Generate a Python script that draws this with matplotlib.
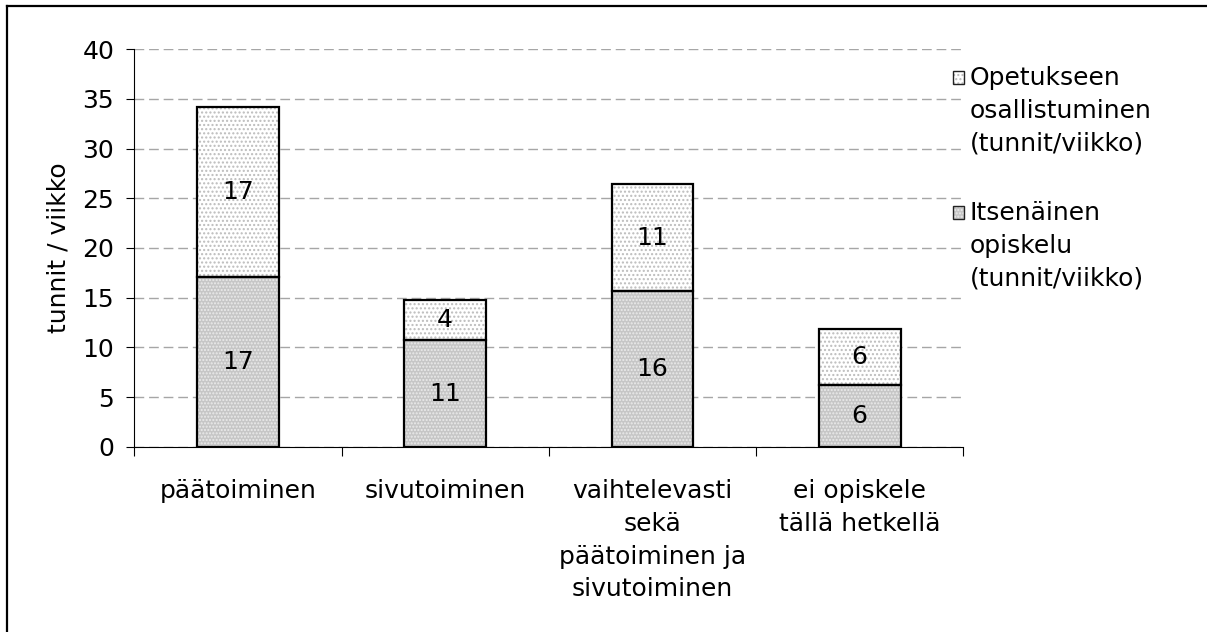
import numpy as np
import matplotlib.pyplot as plt
from matplotlib.lines import Line2D
from matplotlib.patches import Rectangle
from matplotlib.legend_handler import HandlerPatch

categories = ["päätoiminen", "sivutoiminen",
              "vaihtelevasti\nsekä\npäätoiminen ja\nsivutoiminen",
              "ei opiskele\ntällä hetkellä"]
itsenainen = [17.1, 10.7, 15.7, 6.2]   # bottom segment
opetus = [17.1, 4.1, 10.7, 5.6]        # top segment
series_names = ["Opetukseen\nosallistuminen\n(tunnit/viikko)",
                "Itsenäinen\nopiskelu\n(tunnit/viikko)"]
yticks = [0, 5, 10, 15, 20, 25, 30, 35, 40]

FS = 18
LS = 1.47
plt.rcParams['font.family'] = 'DejaVu Sans'
plt.rcParams['hatch.linewidth'] = 1.0


class TopSquare(HandlerPatch):
    # small square lined up with the first line of a multi-line label
    def create_artists(self, legend, orig_handle, xdescent, ydescent,
                       width, height, fontsize, trans):
        y0 = -ydescent + 1.36 * fontsize
        fill = Rectangle((-xdescent, y0), width, height,
                         facecolor=orig_handle.get_facecolor(),
                         edgecolor=orig_handle.get_edgecolor(),
                         hatch=orig_handle.get_hatch(), lw=0, transform=trans)
        edge = Rectangle((-xdescent, y0), width, height, fill=False,
                         edgecolor='#222222', lw=1, transform=trans)
        return [fill, edge]


fig = plt.figure(figsize=(12.07, 6.32), dpi=100)
ax = fig.add_axes([0.1113, 0.2932, 0.6868, 0.6288])

x = np.arange(len(categories))
w = 0.395

fb = ax.bar(x, itsenainen, w, color='#c6c6c6', edgecolor='#ebebeb',
            hatch='.....', linewidth=0, zorder=2)
ft = ax.bar(x, opetus, w, bottom=itsenainen, color='white',
            edgecolor='#bcbcbc', hatch='....', linewidth=0, zorder=2)
ob = ax.bar(x, itsenainen, w, fill=False, edgecolor='black', linewidth=1.6, zorder=3)
ot = ax.bar(x, opetus, w, bottom=itsenainen, fill=False, edgecolor='black',
            linewidth=1.6, zorder=3)

ax.bar_label(ob, labels=[f"{round(v)}" for v in itsenainen], label_type='center',
             fontsize=FS, zorder=4)
ax.bar_label(ot, labels=[f"{round(v)}" for v in opetus], label_type='center',
             fontsize=FS, zorder=4)

ax.set_xlim(-0.5, len(categories) - 0.5)
ax.set_ylim(0, 40)
ax.set_yticks(yticks)
ax.tick_params(axis='y', labelsize=FS, length=5.5, width=0.8, pad=9)

ax.set_xticks(np.arange(len(categories) + 1) - 0.5)
ax.set_xticklabels([])
ax.set_xticks(x, minor=True)
ax.set_xticklabels(categories, minor=True, linespacing=LS)
ax.tick_params(axis='x', which='major', length=6.5, width=0.8)
ax.tick_params(axis='x', which='minor', length=0, labelsize=FS, pad=23)

ax.set_axisbelow(True)
ax.yaxis.grid(True, color='#a6a6a6', linestyle=(0, (7, 3.5)), linewidth=1)

for s in ['top', 'right']:
    ax.spines[s].set_visible(False)
ax.spines['left'].set_linewidth(0.8)
ax.spines['bottom'].set_linewidth(0.8)

ax.set_ylabel("tunnit / viikko", fontsize=FS)
ax.yaxis.set_label_coords(-0.077, 0.5)

leg = fig.legend([ft[0], fb[0]], series_names, loc='upper left',
                 bbox_to_anchor=(953 / 1207, 1 - 66 / 632), frameon=False,
                 borderpad=0, borderaxespad=0, handlelength=0.42, handleheight=0.42,
                 handletextpad=0.25, labelspacing=1.8, fontsize=FS,
                 handler_map={Rectangle: TopSquare()})
for t in leg.get_texts():
    t.set_linespacing(LS)

# outer frame, cut off at right and bottom
fig.add_artist(Line2D([7 / 1207, 1], [1 - 6 / 632] * 2, transform=fig.transFigure,
                      color='black', lw=1.6, solid_capstyle='projecting'))
fig.add_artist(Line2D([7 / 1207] * 2, [0, 1 - 6 / 632], transform=fig.transFigure,
                      color='black', lw=1.6, solid_capstyle='projecting'))

fig.savefig('out.png', dpi=100)
